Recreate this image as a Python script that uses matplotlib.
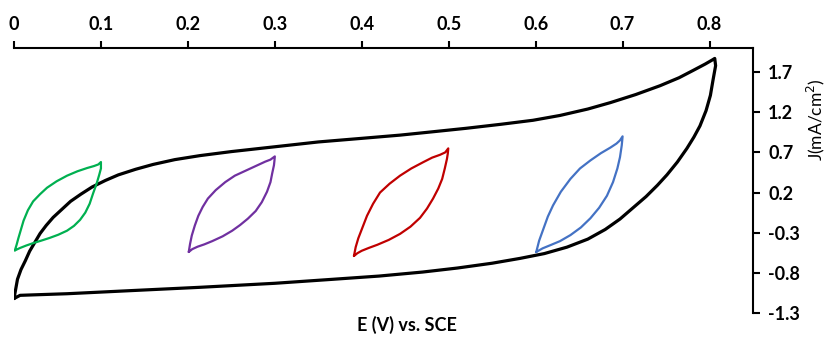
import matplotlib
matplotlib.use("Agg")
import matplotlib.pyplot as plt
from matplotlib.ticker import FixedLocator

plt.rcParams['font.family'] = ['Lato', 'DejaVu Sans']

# wide window scan, forward (anodic) then reverse (cathodic)
wide_e_fwd = [0.0, 0.002, 0.004, 0.008, 0.013, 0.018, 0.024, 0.03, 0.037,
              0.045, 0.055, 0.065, 0.077, 0.09, 0.105, 0.12, 0.14, 0.16,
              0.185, 0.214, 0.25, 0.30, 0.35, 0.40, 0.444, 0.48, 0.52, 0.56,
              0.597, 0.628, 0.66, 0.686, 0.715, 0.743, 0.765, 0.781, 0.795,
              0.803, 0.806]
wide_j_fwd = [-1.12, -1.0, -0.88, -0.76, -0.65, -0.53, -0.42, -0.31, -0.21,
              -0.11, -0.01, 0.09, 0.18, 0.27, 0.35, 0.42, 0.49, 0.55,
              0.61, 0.66, 0.71, 0.77, 0.83, 0.875, 0.915, 0.955, 1.0, 1.05,
              1.10, 1.16, 1.24, 1.32, 1.42, 1.53, 1.63, 1.72, 1.80,
              1.85, 1.87]
wide_e_rev = [0.806, 0.807, 0.804, 0.801, 0.796, 0.789, 0.782, 0.774, 0.763,
              0.751, 0.74, 0.727, 0.712, 0.697, 0.68, 0.66, 0.636, 0.61,
              0.582, 0.55, 0.51, 0.47, 0.42, 0.367, 0.30, 0.214, 0.137,
              0.061, 0.02, 0.007, 0.0]
wide_j_rev = [1.87, 1.78, 1.60, 1.41, 1.22, 1.03, 0.89, 0.75, 0.58,
              0.42, 0.29, 0.15, 0.01, -0.13, -0.26, -0.38, -0.48, -0.56,
              -0.62, -0.68, -0.74, -0.79, -0.84, -0.88, -0.93, -0.98, -1.02,
              -1.06, -1.075, -1.08, -1.12]

# narrow 0.1 V windows, each a closed loop starting at the lower tip
win1_e = [0.001, 0.003, 0.005, 0.008, 0.011, 0.016, 0.022, 0.03, 0.038,
          0.049, 0.061, 0.073, 0.084, 0.092, 0.097, 0.1,
          0.1, 0.098, 0.095, 0.091, 0.087, 0.082, 0.076, 0.069, 0.061,
          0.051, 0.041, 0.031, 0.022, 0.014, 0.007, 0.001]
win1_j = [-0.52, -0.45, -0.37, -0.26, -0.15, -0.02, 0.09, 0.18, 0.26,
          0.34, 0.41, 0.465, 0.505, 0.53, 0.55, 0.58,
          0.50, 0.42, 0.31, 0.19, 0.06, -0.05, -0.14, -0.215, -0.275,
          -0.325, -0.365, -0.40, -0.43, -0.46, -0.49, -0.52]

win2_e = [0.201, 0.2025, 0.2045, 0.208, 0.212, 0.217, 0.223, 0.232, 0.243,
          0.254, 0.266, 0.278, 0.289, 0.295, 0.300,
          0.2995, 0.299, 0.297, 0.295, 0.291, 0.285, 0.278, 0.269, 0.260,
          0.251, 0.24, 0.228, 0.219, 0.211, 0.205, 0.201]
win2_j = [-0.54, -0.44, -0.335, -0.21, -0.09, 0.02, 0.125, 0.23, 0.33,
          0.41, 0.47, 0.53, 0.585, 0.61, 0.65,
          0.59, 0.54, 0.44, 0.33, 0.21, 0.08, -0.03, -0.125, -0.205,
          -0.275, -0.345, -0.405, -0.445, -0.475, -0.505, -0.54]

win3_e = [0.391, 0.393, 0.396, 0.401, 0.406, 0.413, 0.421, 0.432, 0.444,
          0.457, 0.471, 0.481, 0.490, 0.496, 0.4995,
          0.499, 0.498, 0.4955, 0.4925, 0.488, 0.482, 0.475, 0.467, 0.456,
          0.444, 0.431, 0.418, 0.408, 0.40, 0.395, 0.391]
win3_j = [-0.59, -0.48, -0.37, -0.23, -0.09, 0.06, 0.20, 0.31, 0.41,
          0.50, 0.58, 0.635, 0.67, 0.70, 0.75,
          0.69, 0.62, 0.50, 0.37, 0.25, 0.125, 0.0, -0.115, -0.225,
          -0.315, -0.39, -0.45, -0.49, -0.525, -0.555, -0.59]

win4_e = [0.6007, 0.604, 0.609, 0.614, 0.620, 0.629, 0.64, 0.651, 0.663,
          0.675, 0.686, 0.693, 0.697, 0.70,
          0.6995, 0.699, 0.697, 0.694, 0.689, 0.682, 0.673, 0.663, 0.652,
          0.64, 0.628, 0.617, 0.608, 0.6007]
win4_j = [-0.54, -0.40, -0.25, -0.10, 0.04, 0.21, 0.37, 0.50, 0.60,
          0.69, 0.76, 0.81, 0.85, 0.90,
          0.84, 0.785, 0.64, 0.50, 0.33, 0.16, 0.01, -0.12, -0.235,
          -0.33, -0.405, -0.455, -0.495, -0.54]

x_ticks = [0, 0.1, 0.2, 0.3, 0.4, 0.5, 0.6, 0.7, 0.8]
x_labels = ['0', '0.1', '0.2', '0.3', '0.4', '0.5', '0.6', '0.7', '0.8']
y_ticks = [-1.3, -0.8, -0.3, 0.2, 0.7, 1.2, 1.7]
y_labels = ['-1.3', '-0.8', '-0.3', '0.2', '0.7', '1.2', '1.7']

fig = plt.figure(figsize=(8.3, 3.37), dpi=100)
ax = fig.add_axes([14 / 830, 1 - 313 / 337, 739 / 830, 265 / 337])

line_kw = dict(solid_joinstyle='round', solid_capstyle='round')
ax.plot(wide_e_fwd + wide_e_rev, wide_j_fwd + wide_j_rev, color='black',
        lw=2.3, **line_kw)
ax.plot(win1_e, win1_j, color='#00B050', lw=1.6, **line_kw)
ax.plot(win2_e, win2_j, color='#7030A0', lw=1.6, **line_kw)
ax.plot(win3_e, win3_j, color='#C00000', lw=1.6, **line_kw)
ax.plot(win4_e, win4_j, color='#4472C4', lw=1.6, **line_kw)

ax.set_xlim(0, 0.85)
ax.set_ylim(-1.3, 2.0)

# axes drawn on top and right, Excel style
ax.spines['left'].set_visible(False)
ax.spines['bottom'].set_visible(False)
for side in ('top', 'right'):
    ax.spines[side].set_linewidth(1.5)
    ax.spines[side].set_clip_on(False)

ax.xaxis.set_major_locator(FixedLocator(x_ticks))
ax.set_xticklabels(x_labels)
ax.yaxis.set_major_locator(FixedLocator(y_ticks))
ax.set_yticklabels(y_labels)

ax.tick_params(axis='x', which='both', top=True, bottom=False, labeltop=True,
               labelbottom=False, direction='out', length=5, width=1.5,
               pad=6, labelsize=13)
ax.tick_params(axis='y', which='both', right=True, left=False, labelright=True,
               labelleft=False, direction='out', length=5, width=1.5,
               pad=6, labelsize=13)
for lab in ax.get_xticklabels() + ax.get_yticklabels():
    lab.set_fontweight('bold')

fig.text(407 / 830, 1 - 325 / 337, 'E (V) vs. SCE', ha='center', va='center',
         fontsize=13, fontweight='bold')
fig.text(816 / 830, 1 - 120 / 337, 'J(mA/cm$^2$)', ha='center', va='center',
         rotation=90, fontsize=12.5)

fig.savefig('out.png', dpi=100)
